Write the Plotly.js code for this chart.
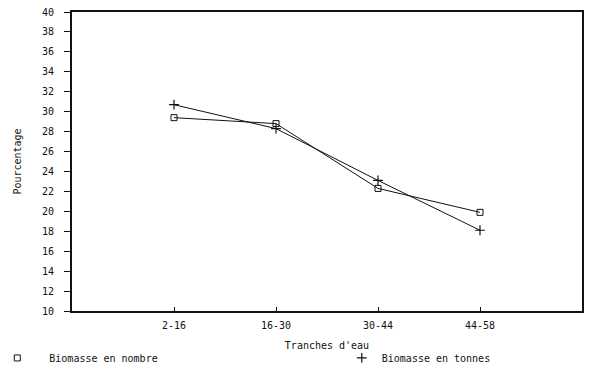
<!DOCTYPE html>
<html>
<head>
<meta charset="utf-8">
<script src="https://cdn.plot.ly/plotly-3.0.1.min.js"></script>
<style>html,body{margin:0;padding:0;background:#fff}#chart{width:600px;height:372px}</style>
</head>
<body>
<div id="chart"></div>
<script>
const categories = ["2-16", "16-30", "30-44", "44-58"];
const biomasseNombre = [29.4, 28.8, 22.3, 19.9];
const biomasseTonnes = [30.7, 28.3, 23.1, 18.1];
const yTicks = [10, 12, 14, 16, 18, 20, 22, 24, 26, 28, 30, 32, 34, 36, 38, 40];

const FONT = "DejaVu Sans Mono, Liberation Mono, monospace";

const traces = [
  {x: categories, y: biomasseNombre, type: "scatter", mode: "lines+markers", showlegend: false,
   line: {color: "#111", width: 1}, marker: {symbol: "square-open", size: 6, color: "#111", line: {width: 1}}},
  {x: categories, y: biomasseTonnes, type: "scatter", mode: "lines+markers", showlegend: false,
   line: {color: "#111", width: 1}, marker: {symbol: "cross-thin-open", size: 7, color: "#111", line: {width: 1.2, color: "#111"}}},
  {x: [null], y: [null], type: "scatter", mode: "markers", name: "Biomasse en nombre", legend: "legend",
   marker: {symbol: "square-open", size: 6, color: "#111", line: {width: 1}}},
  {x: [null], y: [null], type: "scatter", mode: "markers", name: "Biomasse en tonnes", legend: "legend2",
   marker: {symbol: "cross-thin-open", size: 7, color: "#111", line: {width: 1.2, color: "#111"}}}
];

const layout = {
  width: 600, height: 372,
  margin: {l: 72, r: 18, t: 12, b: 61, autoexpand: false},
  paper_bgcolor: "#fff", plot_bgcolor: "#fff",
  font: {family: FONT, size: 10, color: "#111"},
  xaxis: {
    type: "category", categoryarray: categories, range: [-1, 4],
    showgrid: false, zeroline: false,
    showline: true, linewidth: 2, linecolor: "#111", mirror: true,
    ticks: "inside", ticklen: 4, tickwidth: 1, tickcolor: "#111",
    ticklabelstandoff: 4,
    tickfont: {family: FONT, size: 10},
    title: {text: "Tranches d'eau", font: {family: FONT, size: 10}, standoff: 12}
  },
  yaxis: {
    range: [10, 40], tickvals: yTicks, ticktext: yTicks.map(String),
    showgrid: false, zeroline: false,
    showline: true, linewidth: 2, linecolor: "#111", mirror: true,
    ticks: "outside", ticklen: 6, tickwidth: 1, tickcolor: "#111",
    ticklabelstandoff: 8,
    tickfont: {family: FONT, size: 10},
    title: {text: "Pourcentage", font: {family: FONT, size: 10}, standoff: 18}
  },
  legend: {
    orientation: "h", x: -0.17, xanchor: "left", y: -0.157, yanchor: "middle",
    itemwidth: 54,
    font: {family: FONT, size: 10}, bgcolor: "rgba(0,0,0,0)"
  },
  legend2: {
    orientation: "h", x: 0.529, xanchor: "left", y: -0.157, yanchor: "middle",
    itemwidth: 30,
    font: {family: FONT, size: 10}, bgcolor: "rgba(0,0,0,0)"
  }
};

Plotly.newPlot("chart", traces, layout, {displayModeBar: false, staticPlot: true});
</script>
</body>
</html>
